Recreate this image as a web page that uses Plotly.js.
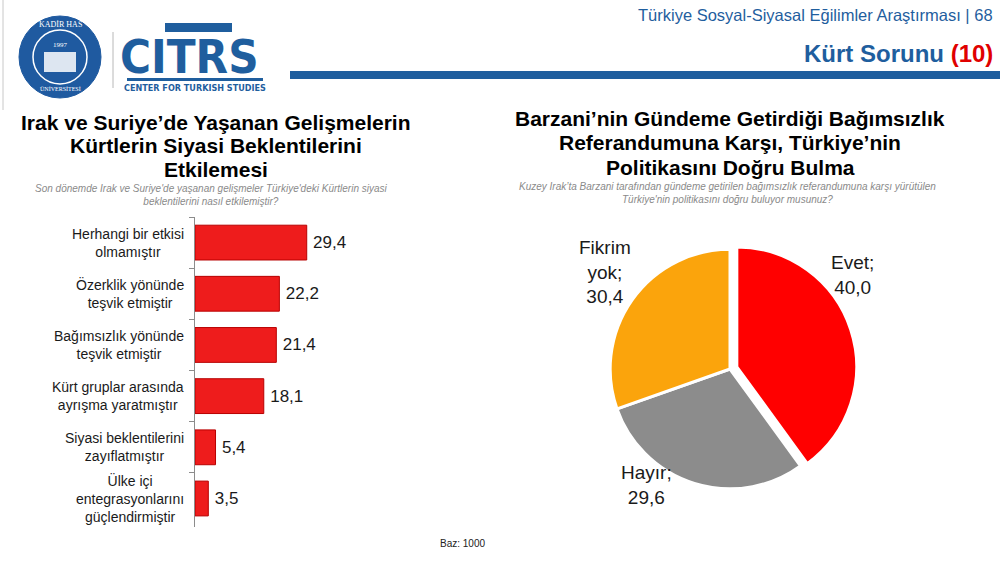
<!DOCTYPE html>
<html>
<head>
<meta charset="utf-8">
<script src="https://cdn.plot.ly/plotly-3.0.1.min.js"></script>
<style>html,body{margin:0;padding:0;background:#fff;}#chart{width:1000px;height:563px;}</style>
</head>
<body>
<div id="chart"></div>
<script>
// ---- data ----
const barCategories = [
  "Herhangi bir etkisi<br>olmamıştır",
  "Özerklik yönünde<br>teşvik etmiştir",
  "Bağımsızlık yönünde<br>teşvik etmiştir",
  "Kürt gruplar arasında<br>ayrışma yaratmıştır",
  "Siyasi beklentilerini<br>zayıflatmıştır",
  "Ülke içi<br>entegrasyonlarını<br>güçlendirmiştir"
];
const barValues = [29.4, 22.2, 21.4, 18.1, 5.4, 3.5];

const pieLabels = ["Evet", "Hayır", "Fikrim yok"];
const pieValues = [40.0, 29.6, 30.4];
const pieColors = ["#ff0000", "#8c8c8c", "#fba40c"];

const leftTitleLines = ["Irak ve Suriye’de Yaşanan Gelişmelerin", "Kürtlerin Siyasi Beklentilerini", "Etkilemesi"];
const leftSub = "Son dönemde Irak ve Suriye'de yaşanan gelişmeler Türkiye'deki Kürtlerin siyasi<br>beklentilerini nasıl etkilemiştir?";
const rightTitleLines = ["Barzani’nin Gündeme Getirdiği Bağımsızlık", "Referandumuna Karşı, Türkiye’nin", "Politikasını Doğru Bulma"];
const rightSub = "Kuzey Irak’ta Barzani tarafından gündeme getirilen bağımsızlık referandumuna karşı yürütülen<br>Türkiye'nin politikasını doğru buluyor musunuz?";

// ---- helpers ----
const W = 1000, H = 563;
const px = x => x / W;
const py = y => 1 - y / H;
const FONT = "Liberation Sans, Arial, sans-serif";
const BLUE = "#1f5e9e";

const fmt = v => v.toFixed(1).replace(".", ",");

const barTrace = {
  type: "bar",
  orientation: "h",
  y: barCategories,
  x: barValues,
  marker: { color: "#ee1c1c", line: { color: "#b80000", width: 1 } },
  text: barValues.map(v => "\u2009" + fmt(v)),
  textposition: "outside",
  textfont: { family: FONT, size: 17, color: "#1a1a1a" },
  cliponaxis: false,
  hoverinfo: "none",
  xaxis: "x", yaxis: "y"
};

const pieTrace = {
  type: "pie",
  labels: pieLabels,
  values: pieValues,
  sort: false,
  direction: "clockwise",
  rotation: 0,
  pull: [0.06, 0, 0],
  marker: { colors: pieColors, line: { color: "#ffffff", width: 3 } },
  textinfo: "none",
  hoverinfo: "none",
  showlegend: false,
  domain: { x: [px(730 - 127), px(730 + 127)], y: [py(369 + 127), py(369 - 127)] }
};

const annotations = [];
// category labels (centered multi-line)
barCategories.forEach(c => {
  annotations.push({
    xref: "paper", yref: "y", x: px(186), y: c, xanchor: "right", yanchor: "middle",
    text: c, showarrow: false, align: "center",
    font: { family: FONT, size: 14, color: "#1a1a1a" }
  });
});
// pie labels
const pieLabelPos = [[852, 275], [646, 485], [605, 272]];
pieLabels.forEach((l, i) => {
  const t = (l === "Fikrim yok" ? "Fikrim<br>yok" : l) + ";<br>" + fmt(pieValues[i]);
  annotations.push({
    xref: "paper", yref: "paper", x: px(pieLabelPos[i][0]), y: py(pieLabelPos[i][1]),
    xanchor: "center", yanchor: "middle", text: t, showarrow: false, align: "center",
    font: { family: FONT, size: 19, color: "#1a1a1a" }
  });
});
// titles (one annotation per line for tight line spacing)
leftTitleLines.forEach((t, i) => {
  annotations.push({ xref: "paper", yref: "paper", x: px(216), y: py(122 + 24 * i),
    xanchor: "center", yanchor: "middle", text: "<b>" + t + "</b>", showarrow: false,
    font: { family: FONT, size: 21, color: "#000" } });
});
rightTitleLines.forEach((t, i) => {
  annotations.push({ xref: "paper", yref: "paper", x: px(730), y: py(118 + 24.5 * i),
    xanchor: "center", yanchor: "middle", text: "<b>" + t + "</b>", showarrow: false,
    font: { family: FONT, size: 21, color: "#000" } });
});
annotations.push(
  { xref: "paper", yref: "paper", x: px(211), y: py(195), xanchor: "center", yanchor: "middle",
    text: "<i>" + leftSub + "</i>", showarrow: false, align: "center",
    font: { family: FONT, size: 10, color: "#8a8a8a" } },
  { xref: "paper", yref: "paper", x: px(727), y: py(193), xanchor: "center", yanchor: "middle",
    text: "<i>" + rightSub + "</i>", showarrow: false, align: "center",
    font: { family: FONT, size: 10, color: "#8a8a8a" } },
  { xref: "paper", yref: "paper", x: px(462), y: py(543), xanchor: "center", yanchor: "middle",
    text: "Baz: 1000", showarrow: false, font: { family: FONT, size: 10, color: "#222" } },
  // header
  { xref: "paper", yref: "paper", x: px(995), y: py(15), xanchor: "right", yanchor: "middle",
    text: "Türkiye Sosyal-Siyasal Eğilimler Araştırması | 68", showarrow: false,
    font: { family: FONT, size: 16.5, color: BLUE } },
  { xref: "paper", yref: "paper", x: px(995), y: py(54), xanchor: "right", yanchor: "middle",
    text: "<b>Kürt Sorunu <span style='color:#e00000'>(10)</span></b>", showarrow: false,
    font: { family: FONT, size: 24, color: BLUE } },
  // logo texts
  { xref: "paper", yref: "paper", x: px(189), y: py(56), xanchor: "center", yanchor: "middle",
    text: "<b>CITRS</b>", showarrow: false,
    font: { family: "DejaVu Sans Condensed, DejaVu Sans, sans-serif", size: 47, color: BLUE } },
  { xref: "paper", yref: "paper", x: px(195), y: py(88), xanchor: "center", yanchor: "middle",
    text: "<b>CENTER FOR TURKISH STUDIES</b>", showarrow: false,
    font: { family: "DejaVu Sans Condensed, DejaVu Sans, sans-serif", size: 9, color: BLUE } },
  { xref: "paper", yref: "paper", x: px(60), y: py(45), xanchor: "center", yanchor: "middle",
    text: "1997", showarrow: false,
    font: { family: "Liberation Serif, serif", size: 7, color: "#fff" } },
  { xref: "paper", yref: "paper", x: px(60), y: py(24), xanchor: "center", yanchor: "middle",
    text: "KADİR HAS", showarrow: false,
    font: { family: "Liberation Serif, serif", size: 8, color: "#fff" } },
  { xref: "paper", yref: "paper", x: px(60), y: py(89), xanchor: "center", yanchor: "middle",
    text: "ÜNİVERSİTESİ", showarrow: false,
    font: { family: "Liberation Serif, serif", size: 6, color: "#fff" } }
);

const shapes = [
  // header bar
  { type: "rect", xref: "paper", yref: "paper", x0: px(290), x1: 1, y0: py(79), y1: py(71),
    fillcolor: BLUE, line: { width: 0 } },
  // left slide border
  { type: "line", xref: "paper", yref: "paper", x0: px(3), x1: px(3), y0: py(0), y1: py(110),
    line: { color: "#c8c8c8", width: 1 } },
  // separator
  { type: "line", xref: "paper", yref: "paper", x0: px(113), x1: px(113), y0: py(32), y1: py(88),
    line: { color: "#b8b8b8", width: 1 } },
  // seal
  { type: "circle", xref: "paper", yref: "paper", x0: px(19), x1: px(101), y0: py(98), y1: py(16),
    fillcolor: "#1f5aa0", line: { color: "#1f5aa0", width: 1 } },
  { type: "circle", xref: "paper", yref: "paper", x0: px(33), x1: px(87), y0: py(84), y1: py(30),
    fillcolor: "rgba(0,0,0,0)", line: { color: "#ffffff", width: 1.5 } },
  { type: "rect", xref: "paper", yref: "paper", x0: px(44), x1: px(76), y0: py(72), y1: py(52),
    fillcolor: "rgba(255,255,255,0.85)", line: { width: 0 } },
  // CITRS decorations
  { type: "rect", xref: "paper", yref: "paper", x0: px(165), x1: px(232), y0: py(32), y1: py(23),
    fillcolor: BLUE, line: { width: 0 } },
  { type: "rect", xref: "paper", yref: "paper", x0: px(127), x1: px(263), y0: py(81), y1: py(78),
    fillcolor: BLUE, line: { width: 0 } }
];

const layout = {
  width: W, height: H,
  margin: { l: 0, r: 0, t: 0, b: 0 },
  paper_bgcolor: "#ffffff", plot_bgcolor: "rgba(0,0,0,0)",
  separators: ",.",
  showlegend: false,
  bargap: 0.32,
  xaxis: { domain: [px(195), px(195 + 50 * 3.8)], range: [0, 50], visible: false, fixedrange: true },
  yaxis: {
    domain: [py(527), py(217)], autorange: "reversed", type: "category",
    showticklabels: false, showline: true, linecolor: "#8c8c8c", linewidth: 1,
    ticks: "outside", tickson: "boundaries", ticklen: 5, tickcolor: "#8c8c8c",
    showgrid: false, zeroline: false, fixedrange: true
  },
  annotations: annotations,
  shapes: shapes
};

Plotly.newPlot("chart", [barTrace, pieTrace], layout, { staticPlot: true, displayModeBar: false });
</script>
</body>
</html>
